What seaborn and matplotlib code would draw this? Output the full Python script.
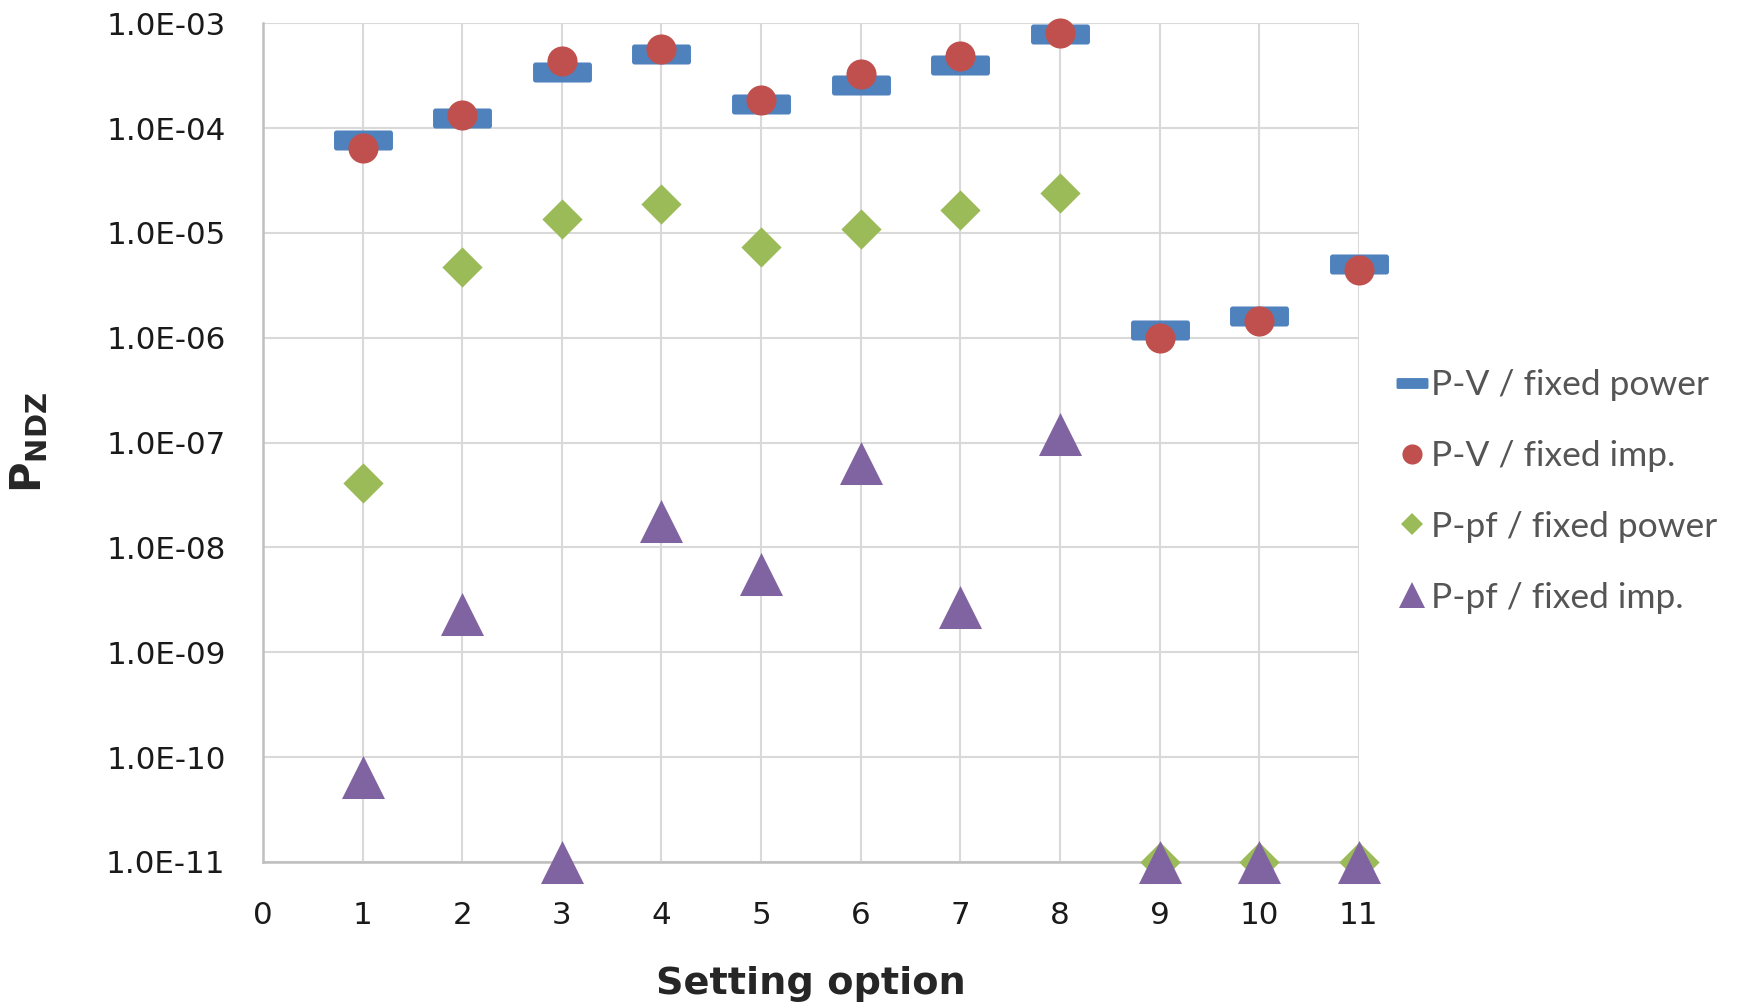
import matplotlib
matplotlib.use("Agg")
import matplotlib.pyplot as plt
import pandas as pd
import seaborn as sns
from matplotlib.path import Path
from matplotlib.lines import Line2D
from matplotlib.ticker import FuncFormatter, NullLocator

# values (log scale)
options = [1, 2, 3, 4, 5, 6, 7, 8, 9, 10, 11]
pv_power = [7.7e-5, 1.24e-4, 3.45e-4, 5.1e-4, 1.69e-4, 2.6e-4, 4.0e-4, 7.9e-4, 1.18e-6, 1.6e-6, 5.0e-6]
pv_imp = [6.5e-5, 1.34e-4, 4.36e-4, 5.7e-4, 1.84e-4, 3.3e-4, 4.9e-4, 8.0e-4, 1.0e-6, 1.43e-6, 4.47e-6]
pf_power = [4.1e-8, 4.7e-6, 1.37e-5, 1.9e-5, 7.3e-6, 1.08e-5, 1.67e-5, 2.4e-5, 1e-11, 1e-11, 1e-11]
pf_imp = [6.4e-11, 2.3e-9, 1e-11, 1.8e-8, 5.6e-9, 6.4e-8, 2.7e-9, 1.2e-7, 1e-11, 1e-11, 1e-11]
labels = ["P-V / fixed power", "P-V / fixed imp.", "P-pf / fixed power", "P-pf / fixed imp."]
y_ticks = [1e-11, 1e-10, 1e-9, 1e-8, 1e-7, 1e-6, 1e-5, 1e-4, 1e-3]
x_ticks = list(range(0, 12))


def rounded_rect(w=1.0, h=0.34, r=0.09):
    verts = [(-w + r, -h), (w - r, -h), (w, -h), (w, -h + r), (w, h - r), (w, h),
             (w - r, h), (-w + r, h), (-w, h), (-w, h - r), (-w, -h + r), (-w, -h),
             (-w + r, -h), (-w + r, -h)]
    codes = [Path.MOVETO, Path.LINETO, Path.CURVE3, Path.CURVE3, Path.LINETO, Path.CURVE3,
             Path.CURVE3, Path.LINETO, Path.CURVE3, Path.CURVE3, Path.LINETO, Path.CURVE3,
             Path.CURVE3, Path.CLOSEPOLY]
    return Path(verts, codes)


bar = rounded_rect()
colors = ["#4F81BD", "#C0504D", "#9BBB59", "#8064A2"]
markers = [bar, "o", "D", "^"]
sizes = [1800, 470, 420, 960]

df = pd.concat([
    pd.DataFrame({"option": options, "value": vals, "series": lab})
    for vals, lab in zip([pv_power, pv_imp, pf_power, pf_imp], labels)
])

sns.set_style("white")
plt.rcParams["font.family"] = ["DejaVu Sans"]
plt.rcParams["mathtext.fontset"] = "dejavusans"

fig = plt.figure(figsize=(17.42, 10.07), dpi=100)
ax = fig.add_axes([0.151, 0.144, 0.629, 0.833])

for i, lab in enumerate(labels):
    sns.scatterplot(data=df[df["series"] == lab], x="option", y="value", ax=ax,
                    color=colors[i], marker=markers[i], s=sizes[i], linewidth=0,
                    clip_on=False, zorder=3 + i, legend=False)

ax.set_yscale("log")
ax.set_ylim(1e-11, 1e-3)
ax.set_xlim(0, 11)
ax.set_yticks(y_ticks)
ax.yaxis.set_minor_locator(NullLocator())
ax.yaxis.set_major_formatter(FuncFormatter(lambda v, p: f"{v:.1E}"))
ax.set_xticks(x_ticks)
ax.tick_params(axis="y", length=0, pad=27, labelsize=22.3, labelcolor="#1a1a1a")
ax.tick_params(axis="x", length=0, pad=28, labelsize=22.3, labelcolor="#1a1a1a")

ax.grid(True, color="#d9d9d9", linewidth=1.5)
ax.set_axisbelow(True)
for side in ["top", "right"]:
    ax.spines[side].set_visible(False)
for side in ["left", "bottom"]:
    ax.spines[side].set_color("#bfbfbf")
    ax.spines[side].set_linewidth(1.8)

ax.set_xlabel("Setting option", fontsize=27.5, fontweight="bold", labelpad=26)
ax.set_ylabel(r"$\mathbf{P_{NDZ}}$", fontsize=30, labelpad=40)

handles = [Line2D([], [], linestyle="none", marker=m, color=c, markersize=ms, markeredgewidth=0)
           for m, c, ms in zip(markers, colors, [23, 14.5, 11.5, 19])]
fig.legend(handles, labels, loc="center left", bbox_to_anchor=(0.791, 0.512), frameon=False,
           borderpad=0, labelspacing=1.1, handlelength=0.9, handletextpad=0.1,
           labelcolor="#555555", prop={"family": "Lato", "size": 25.5})

fig.savefig("out.png", dpi=100)
